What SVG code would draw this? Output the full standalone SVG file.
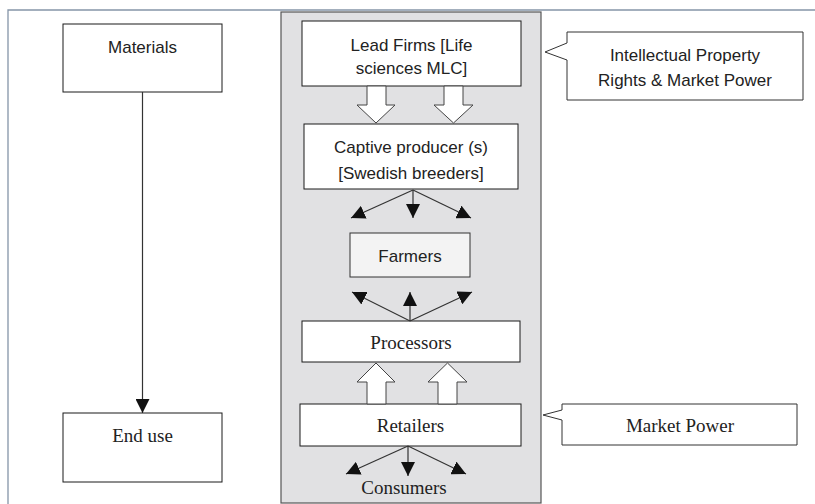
<svg xmlns="http://www.w3.org/2000/svg" width="815" height="504" viewBox="0 0 815 504">
<defs>
<style>
.box{fill:#fff;stroke:#1a1a1a;stroke-width:1}
.sans{font-family:"Liberation Sans",Arial,sans-serif;font-size:17px;fill:#222;text-anchor:middle}
.serif{font-family:"Liberation Serif","Times New Roman",serif;font-size:19px;fill:#222;text-anchor:middle}
.conn{stroke:#333;stroke-width:1.2;fill:none}
.block{fill:#fff;stroke:#444;stroke-width:1}
</style>
<marker id="tri" viewBox="0 0 10 10" refX="10" refY="5" markerWidth="10" markerHeight="10" markerUnits="userSpaceOnUse" orient="auto">
<path d="M0,0 L10,5 L0,10 z" fill="#111"/>
</marker>
<marker id="tri2" viewBox="0 0 12 12" refX="12" refY="6" markerWidth="14" markerHeight="14" markerUnits="userSpaceOnUse" orient="auto">
<path d="M0,0 L12,6 L0,12 z" fill="#111"/>
</marker>
</defs>
<rect width="815" height="504" fill="#fff"/>
<g id="frame">
<path d="M8,504 V10 H815" fill="none" stroke="#8595a8" stroke-width="1.3"/>
</g>
<g id="panel">
<rect x="281" y="12" width="260" height="491" fill="#e1e1e3" stroke="#555" stroke-width="1.2"/>
</g>
<g id="materials">
<rect class="box" x="63" y="24" width="159" height="68"/>
<text class="sans" x="142.5" y="53">Materials</text>
</g>
<g id="end-use">
<rect class="box" x="63" y="413" width="159" height="69"/>
<text class="serif" x="142.5" y="442">End use</text>
</g>
<g id="lead-firms">
<rect class="box" x="302" y="21" width="219" height="65"/>
<text class="sans" x="411.5" y="51">Lead Firms [Life</text>
<text class="sans" x="411.5" y="74">sciences MLC]</text>
</g>
<g id="captive-producer">
<rect class="box" x="304" y="124" width="214" height="65"/>
<text class="sans" x="411" y="153">Captive producer (s)</text>
<text class="sans" x="411" y="179">[Swedish breeders]</text>
</g>
<g id="farmers">
<rect x="350" y="233" width="120" height="44" fill="#f3f3f3" stroke="#333" stroke-width="1"/>
<text class="sans" x="410" y="262">Farmers</text>
</g>
<g id="processors">
<rect class="box" x="302" y="321" width="218" height="41"/>
<text class="serif" x="411" y="349">Processors</text>
</g>
<g id="retailers">
<rect class="box" x="300" y="404" width="221" height="42"/>
<text class="serif" x="410.5" y="432">Retailers</text>
</g>
<g id="consumers">
<text class="serif" x="404" y="494">Consumers</text>
</g>
<g id="callout-ipr">
<path d="M567,32 H803 V100 H567 V60 L545,52 L567,43 Z" fill="#fff" stroke="#333" stroke-width="1"/>
<text class="sans" x="685" y="61">Intellectual Property</text>
<text class="sans" x="685" y="86">Rights &amp; Market Power</text>
</g>
<g id="callout-market">
<path d="M562,404 H797 V445 H562 V420 L543,415 L562,410 Z" fill="#fff" stroke="#333" stroke-width="1"/>
<text class="serif" x="680" y="432">Market Power</text>
</g>
<g id="connectors">
<line class="conn" x1="142.5" y1="92" x2="142.5" y2="413" marker-end="url(#tri2)"/>
<path class="block" d="M367,86 V105 H357 L376,123 L395,105 H386 V86 Z"/>
<path class="block" d="M444,86 V105 H434 L453.5,123 L473,105 H463 V86 Z"/>
<line class="conn" x1="413" y1="190" x2="351" y2="218" marker-end="url(#tri2)"/>
<line class="conn" x1="413" y1="190" x2="413" y2="218" marker-end="url(#tri2)"/>
<line class="conn" x1="413" y1="190" x2="471" y2="218" marker-end="url(#tri2)"/>
<line class="conn" x1="410" y1="321" x2="352" y2="292" marker-end="url(#tri2)"/>
<line class="conn" x1="410" y1="321" x2="410" y2="292" marker-end="url(#tri2)"/>
<line class="conn" x1="410" y1="321" x2="472" y2="292" marker-end="url(#tri2)"/>
<path class="block" d="M367,404 V382 H357 L376,363 L395,382 H386 V404 Z"/>
<path class="block" d="M438,404 V382 H428 L447.5,363 L467,382 H457 V404 Z"/>
<line class="conn" x1="408" y1="446" x2="346" y2="474" marker-end="url(#tri2)"/>
<line class="conn" x1="408" y1="446" x2="408" y2="476" marker-end="url(#tri2)"/>
<line class="conn" x1="408" y1="446" x2="466" y2="474" marker-end="url(#tri2)"/>
</g>
</svg>
